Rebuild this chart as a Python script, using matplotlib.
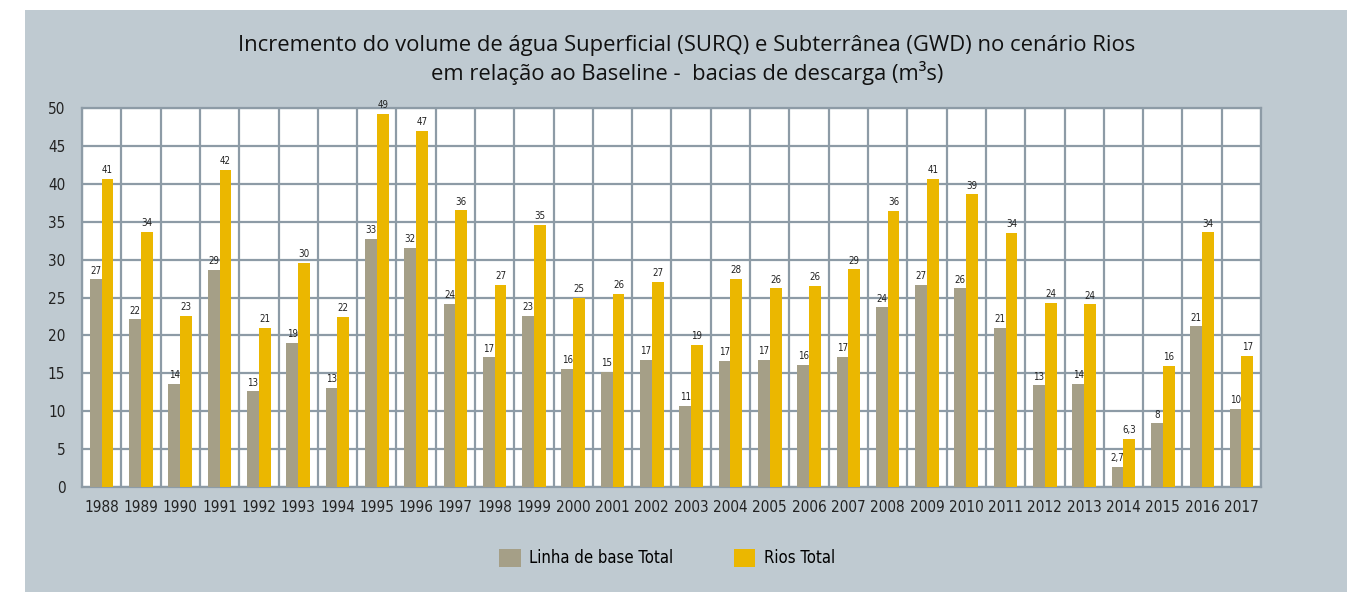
import numpy as np
import matplotlib.pyplot as plt
from matplotlib.patches import Rectangle

# Dados
anos = list(range(1988, 2018))
linha_base = [27.4, 22.1, 13.6, 28.6, 12.6, 19.0, 13.1, 32.7, 31.5, 24.2,
              17.1, 22.6, 15.6, 15.2, 16.8, 10.7, 16.6, 16.8, 16.1, 17.2,
              23.7, 26.7, 26.2, 21.0, 13.4, 13.6, 2.7, 8.4, 21.2, 10.3]
rios = [40.6, 33.7, 22.6, 41.8, 21.0, 29.6, 22.4, 49.2, 47.0, 36.5,
        26.7, 34.6, 24.9, 25.5, 27.1, 18.7, 27.5, 26.2, 26.5, 28.7,
        36.4, 40.6, 38.6, 33.5, 24.3, 24.1, 6.3, 16.0, 33.6, 17.3]

titulo = ("Incremento do volume de água Superficial (SURQ) e Subterrânea (GWD) no cenário Rios\n"
          "em relação ao Baseline -  bacias de descarga (m³s)")

cor_base = '#a59f87'
cor_rios = '#ebb700'
cor_grid = '#8d9ba6'
cor_fundo = '#bfcad1'
fonte = dict(family='DejaVu Sans', stretch='condensed')


def rotulo(v):
    if v < 7:
        return f'{v:.1f}'.replace('.', ',')
    return f'{v:.0f}'


fig = plt.figure(figsize=(13.47, 5.92), dpi=100)
fig.patch.set_facecolor('white')
fig.patches.append(Rectangle((25 / 1347, 0), 1 - 25 / 1347, 1 - 10 / 592,
                             transform=fig.transFigure, facecolor=cor_fundo,
                             edgecolor='none', zorder=-10))

ax = fig.add_axes([82 / 1347, 1 - 487 / 592, (1261 - 82) / 1347, (487 - 108) / 592])
ax.set_facecolor('white')

x = np.arange(len(anos))
w = 0.3
b1 = ax.bar(x - w / 2, linha_base, w, color=cor_base, zorder=3, label='Linha de base Total')
b2 = ax.bar(x + w / 2, rios, w, color=cor_rios, zorder=3, label='Rios Total')

for barras, vals in ((b1, linha_base), (b2, rios)):
    for rect, v in zip(barras, vals):
        ax.text(rect.get_x() + rect.get_width() / 2, v + 0.5, rotulo(v), ha='center', va='bottom',
                fontsize=7, color='#222222', zorder=4, **fonte)

ax.set_xlim(-0.5, len(anos) - 0.5)
ax.set_ylim(0, 50)
ax.set_yticks(range(0, 51, 5))
ax.set_xticks(x)
ax.set_xticklabels([str(a) for a in anos])
for lab in ax.get_xticklabels() + ax.get_yticklabels():
    lab.set_family(fonte['family'])
    lab.set_stretch(fonte['stretch'])
    lab.set_fontsize(11)
    lab.set_color('#222222')

# grade
for xv in np.arange(-0.5, len(anos), 1):
    ax.axvline(xv, color=cor_grid, lw=1.6, zorder=1)
for yv in range(0, 51, 5):
    ax.axhline(yv, color=cor_grid, lw=1.6, zorder=1)
for s in ax.spines.values():
    s.set_color(cor_grid)
    s.set_linewidth(1.6)
ax.tick_params(length=0, pad=9)
ax.tick_params(axis='y', pad=12)

fig.text(687 / 1347, 1 - 60 / 592, titulo, ha='center', va='center', fontsize=15.8,
         family=['Open Sans', 'DejaVu Sans'], color='#111111', linespacing=1.3)

fig.legend(handles=[b1, b2], loc='center', bbox_to_anchor=(667 / 1347, 1 - 558 / 592),
           ncol=2, frameon=False, prop=dict(size=12, **fonte),
           handlelength=1.3, handleheight=1.3, columnspacing=3.6, handletextpad=0.5)

fig.savefig('out.png', dpi=100, facecolor=fig.get_facecolor())
